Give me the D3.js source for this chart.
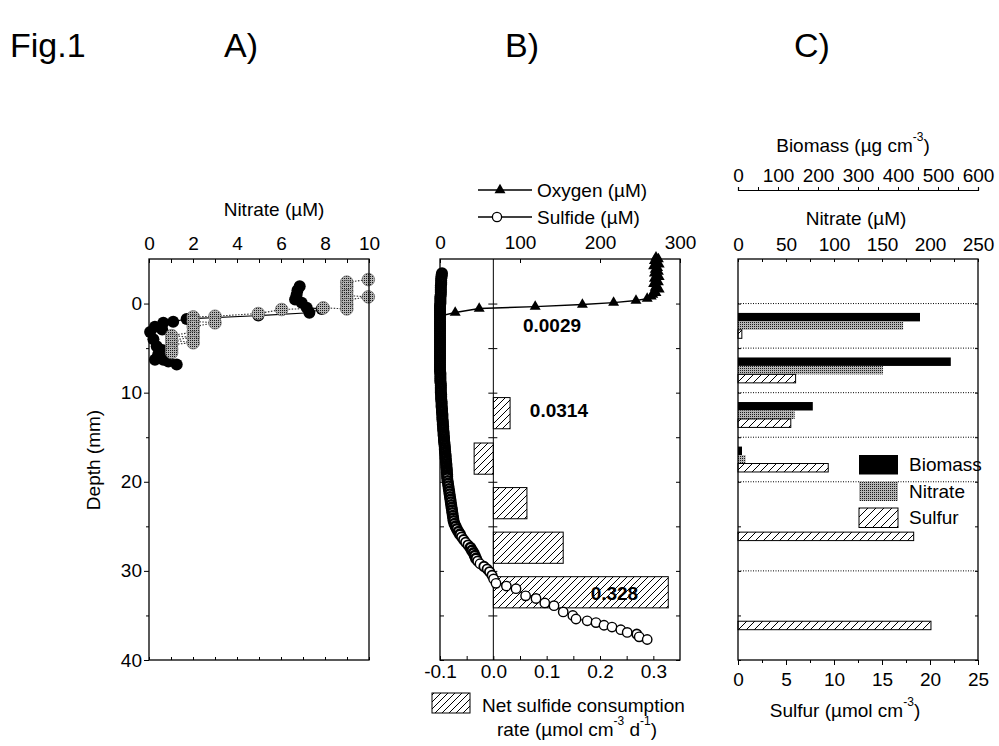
<!DOCTYPE html>
<html><head><meta charset="utf-8">
<script src="https://cdn.jsdelivr.net/npm/d3@7"></script>
<style>
body{margin:0;background:#fff;}
svg{display:block;font-family:"Liberation Sans",Arial,sans-serif;}
</style></head><body>
<svg id="fig" width="999" height="746"></svg>
<script>
// ---------------- DATA ----------------
const depthTicks = [0,5,10,15,20,25,30,35,40];
// Panel A: nitrate profiles (µM) vs depth (mm)
const nitrateTicksA = [0,1,2,3,4,5,6,7,8,9,10];
const blackNitrate = [6.85,6.75,6.71,6.64,6.94,7.17,7.85,7.29,4.97,1.71,1.10,0.65,0.27,0.60,0.05,0.20,0.35,0.60,0.42,0.27,0.65,0.88,1.26];
const blackDepth   = [-1.94,-1.5,-1.0,-0.45,-0.08,0.48,0.60,1.04,1.35,1.72,2.05,2.16,2.60,2.90,3.20,4.00,4.80,5.20,5.70,6.30,6.30,6.50,6.83];
const grayNitrate = [9.97,8.99,8.99,8.99,8.99,9.97,8.99,8.99,8.99,7.92,6.03,4.97,3.00,2.01,2.01,3.00,2.01,2.01,1.03,2.01,1.03,2.01,1.03,1.03,1.03];
const grayDepth   = [-2.69,-2.4,-1.9,-1.4,-0.9,-0.75,-0.4,0.1,0.6,0.48,0.67,1.12,1.42,1.5,2.0,2.16,2.6,3.2,3.6,3.8,4.1,4.4,4.6,5.1,5.5];

// Panel B: oxygen and sulfide (µM), net sulfide consumption rate
const concTicks = [0,100,200,300];
const rateTicks = [-0.1,-0.05,0,0.05,0.1,0.15,0.2,0.25,0.3];
const oxyDepth = [-5.2,-5.0,-4.8,-4.6,-4.4,-4.2,-4.0,-3.8,-3.6,-3.4,-3.2,-3.0,-2.8,-2.6,-2.4,-2.2,-2.0,-1.8,-1.6,-1.4,-1.2,-1.0,-0.8,-0.56,-0.34,-0.11,0.11,0.34,0.56,1.0,1.4,1.8];
const oxyConc  = [270,273,268,271,274,267,272,269,273,268,271,274,268,270,273,267,271,269,274,268,270,266,264,259,245,217,178,119,49,19,0,0];
const sulfideDepth = [
-3.4,-3.2,-3.0,-2.8,-2.6,-2.4,-2.2,-2.0,-1.8,-1.6,
-1.4,-1.2,-1.0,-0.8,-0.6,-0.4,-0.2,0.0,0.2,0.4,
0.6,0.8,1.0,1.2,1.4,1.6,1.8,2.0,2.2,2.4,
2.6,2.8,3.0,3.2,3.4,3.6,3.8,4.0,4.2,4.4,
4.6,4.8,5.0,5.2,5.4,5.6,5.8,6.0,6.2,6.4,
6.6,6.8,7.0,7.2,7.4,7.6,7.8,8.0,8.2,8.4,
8.6,8.8,9.0,9.2,9.4,9.6,9.8,10.0,10.2,10.4,
10.6,10.8,11.0,11.2,11.4,11.6,11.8,12.0,12.2,12.4,
12.6,12.8,13.0,13.2,13.4,13.6,13.8,14.0,14.2,14.4,
14.6,14.8,15.0,15.2,15.4,15.6,15.8,16.0,16.2,16.4,
16.6,16.8,17.0,17.2,17.4,17.6,17.8,18.0,18.2,18.4,
18.6,18.8,19.0,19.2,19.4,19.6,
19.9,20.2,20.5,20.8,21.1,21.4,21.7,22.0,22.3,22.6,
22.9,23.2,23.5,23.8,24.1,24.4,24.7,25.0,25.3,25.6,
25.9,26.2,26.5,26.8,27.1,27.4,27.7,28.0,28.3,28.6,
28.9,29.2,29.5,29.8,30.1,30.5,30.9,31.4,31.7,32.0,
32.8,33.1,33.6,33.9,34.6,35.0,35.4,35.6,35.8,36.1,
36.3,36.6,36.9,37.1,37.4,37.7];
const sulfideConc = [
2.5,2,2,1.5,1.5,1.5,1.5,1,1,1,
1,1,1,0.5,0.5,0.5,0.5,0.5,0,0,
0,0,0,0,0,0,0,0,0,0,
0,0,0,0,0,0,0,0,0,0,
0,0,0,0,0,0,0,0,0,0,
0,0,0,0,0,0,0.5,0.5,0.5,0.5,
0.5,0.5,1,1,1,1,1,1,1.5,1.5,
1.5,1.5,2,2,2,2,2.5,2.5,2.5,3,
3,3,3,3.5,3.5,3.5,4,4,4,4.5,
4.5,4.5,5,5,5,5.5,5.5,6,6,6,
6.5,6.5,7,7,7,7.5,7.5,8,8,8,
8.5,8.5,8.5,9,9,9,
9.5,10,10.5,11,11.5,12,12.5,13,13.5,14,
14.5,15,15.5,16,16.5,17,18,19.5,21,23,
25,27,29.5,32,35,38,40,42,43.5,45,
47,50,55,59,62,65,67,70,83,95,
107,120,131,142.5,154,166,170,184,195,205,
215,226,234,246,249,259];
const rateDepth = [12.3,17.4,22.4,27.4,32.4];
const rateValue = [0.0314,-0.036,0.063,0.131,0.328];
const rateLabels = ["0.0029","0.0314","0.328"];
const rateLabelDepth = [2.5,12.0,32.5];
const rateLabelAt = [0.110,0.123,0.227];

// Panel C: biomass, nitrate, sulfur per layer
const biomassTicks = [0,50,100,150,200,250,300,350,400,450,500,550,600];
const nitrateTicksC = [0,25,50,75,100,125,150,175,200,225,250];
const sulfurTicks = [0,2.5,5,7.5,10,12.5,15,17.5,20,22.5,25];
const layerDepth = [2.5,7.5,12.5,17.5,25.2,35.2];
const biomass = [455,532,187,10,null,null];
const nitrateC = [172,151,59,8,null,null];
const sulfur = [0.4,6.0,5.5,9.4,18.3,20.1];
const layerBounds = [0,5,10,15,20,30];
const seriesC = ["Biomass","Nitrate","Sulfur"];

// ---------------- DRAW ----------------
const FF = '"Liberation Sans",Arial,sans-serif';
const svg = d3.select('#fig');
const defs = svg.append('defs');
function hatchPattern(id, s){
  const p = defs.append('pattern').attr('id',id).attr('patternUnits','userSpaceOnUse').attr('width',s).attr('height',s);
  p.append('rect').attr('width',s).attr('height',s).attr('fill','#fff');
  p.append('path').attr('d',`M-1,1 L1,-1 M0,${s} L${s},0 M${s-1},${s+1} L${s+1},${s-1}`).attr('stroke','#000').attr('stroke-width',1);
}
hatchPattern('hatchB',7);
hatchPattern('hatchC',8);
const st = defs.append('pattern').attr('id','stip').attr('patternUnits','userSpaceOnUse').attr('width',2).attr('height',2);
st.append('rect').attr('width',2).attr('height',2).attr('fill','#b4b4b4');
st.append('rect').attr('width',1).attr('height',1).attr('fill','#1a1a1a');

const yD = d3.scaleLinear().domain([-5,40]).range([259,660]);
const TOP = yD.range()[0], BOT = yD.range()[1];

function styleAxis(g, keepDomain){
  g.attr('font-size',19).attr('font-family',FF);
  g.selectAll('line').attr('stroke','#000');
  g.selectAll('text').attr('fill','#000');
  if(!keepDomain) g.select('.domain').remove();
  else g.select('.domain').attr('stroke','#000').attr('stroke-width',1.2);
  return g;
}
function txt(x,y,s,opts={}){
  const t = svg.append('text').attr('x',x).attr('y',y).attr('font-family',FF)
    .attr('font-size',opts.size||19).attr('text-anchor',opts.anchor||'start')
    .attr('dominant-baseline',opts.base||'central').attr('fill','#000');
  if(opts.weight) t.attr('font-weight',opts.weight);
  if(opts.rotate) t.attr('transform',`rotate(${opts.rotate},${x},${y})`);
  if(Array.isArray(s)){
    let shift=0;
    s.forEach(p=>{
      if(typeof p==='string'){ t.append('tspan').attr('dy',-shift).text(p); shift=0; }
      else { t.append('tspan').attr('font-size',12).attr('dy',-8-shift).text(p.sup); shift=-8; }
    });
  } else t.text(s);
  return t;
}
const isMult = (d,m)=>Math.abs(d/m-Math.round(d/m))<1e-9;

// Titles
txt(10,57,'Fig.1',{size:34,base:'auto'});
txt(241,57,'A)',{size:34,anchor:'middle',base:'auto'});
txt(522,57,'B)',{size:34,anchor:'middle',base:'auto'});
txt(812,57,'C)',{size:34,anchor:'middle',base:'auto'});

// ---------- Panel A ----------
const xA = d3.scaleLinear().domain([0,10]).range([149,369]);
const lineA = d3.line().x(d=>xA(d[0])).y(d=>yD(d[1]));
const blackPts = d3.zip(blackNitrate, blackDepth);
const grayPts = d3.zip(grayNitrate, grayDepth);
svg.append('path').attr('d',lineA(blackPts)).attr('fill','none').attr('stroke','#000').attr('stroke-width',1.1);
svg.append('path').attr('d',lineA(grayPts)).attr('fill','none').attr('stroke','#333').attr('stroke-width',1.1).attr('stroke-dasharray','1.5,1.5');
svg.append('g').selectAll('circle').data(blackPts).join('circle')
  .attr('cx',d=>xA(d[0])).attr('cy',d=>yD(d[1])).attr('r',6).attr('fill','#000');
svg.append('g').selectAll('circle').data(grayPts).join('circle')
  .attr('cx',d=>xA(d[0])).attr('cy',d=>yD(d[1])).attr('r',6.3).attr('fill','url(#stip)').attr('stroke','#666').attr('stroke-width',0.7);

svg.append('rect').attr('x',149).attr('y',TOP).attr('width',220).attr('height',BOT-TOP)
  .attr('fill','none').attr('stroke','#000').attr('stroke-width',1.3);
let g = svg.append('g').attr('transform',`translate(0,${TOP})`)
  .call(d3.axisTop(xA).tickValues(nitrateTicksA).tickSize(-4).tickPadding(9).tickFormat(d=>d%2===0?d:''));
styleAxis(g);
g = svg.append('g').attr('transform',`translate(0,${BOT})`)
  .call(d3.axisBottom(xA).tickValues(nitrateTicksA).tickSize(-3).tickFormat(''));
styleAxis(g);
g = svg.append('g').attr('transform',`translate(149,0)`)
  .call(d3.axisLeft(yD).tickValues(depthTicks).tickSize(5).tickPadding(2).tickFormat(d=>d%10===0?d:''));
styleAxis(g);
g.selectAll('.tick').filter(d=>d%10!==0).select('line').attr('x2',-3);
txt(274,209,'Nitrate (µM)',{anchor:'middle'});
txt(93,460,'Depth (mm)',{anchor:'middle',rotate:-90});

// ---------- Panel B ----------
const xC = d3.scaleLinear().domain([0,300]).range([440,680]);
const xR = d3.scaleLinear().domain([-0.1,0.35]).range([440,680]);
const BAR = 3.5; // mm thickness of rate bars
svg.append('g').selectAll('rect').data(d3.zip(rateDepth,rateValue)).join('rect')
  .attr('x',d=>Math.min(xR(0),xR(d[1]))).attr('width',d=>Math.abs(xR(d[1])-xR(0)))
  .attr('y',d=>yD(d[0]-BAR/2)).attr('height',d=>yD(d[0]+BAR/2)-yD(d[0]-BAR/2))
  .attr('fill','url(#hatchB)').attr('stroke','#000').attr('stroke-width',1);
svg.append('line').attr('x1',xR(0)).attr('x2',xR(0)).attr('y1',TOP).attr('y2',BOT).attr('stroke','#000').attr('stroke-width',1);
g = svg.append('g').attr('transform',`translate(${xR(0)},0)`).call(d3.axisLeft(yD).tickValues(depthTicks.slice(0,8)).tickSize(5).tickFormat(''));
styleAxis(g);
g = svg.append('g').attr('transform',`translate(${xR(0)},0)`).call(d3.axisRight(yD).tickValues(depthTicks.slice(0,8)).tickSize(4).tickFormat(''));
styleAxis(g);
d3.zip(rateLabels,rateLabelDepth,rateLabelAt).forEach(d=>{
  txt(xR(d[2]),yD(d[1]),d[0],{anchor:'middle',weight:'bold'});
});
// oxygen
const oxyPts = d3.zip(oxyConc, oxyDepth);
svg.append('path').attr('d',d3.line().x(d=>xC(d[0])).y(d=>yD(d[1]))(oxyPts))
  .attr('fill','none').attr('stroke','#000').attr('stroke-width',1.4);
const tri = d3.symbol().type(d3.symbolTriangle).size(52);
svg.append('g').selectAll('path').data(oxyPts).join('path')
  .attr('d',tri).attr('transform',d=>`translate(${xC(d[0])},${yD(d[1])})`).attr('fill','#000');
// sulfide
const sulPts = d3.zip(sulfideConc, sulfideDepth);
svg.append('path').attr('d',d3.line().x(d=>xC(d[0])).y(d=>yD(d[1]))(sulPts))
  .attr('fill','none').attr('stroke','#000').attr('stroke-width',1);
// where the scanned circles overlap heavily, their outlines merge into a dark column
const gapPx = sulPts.map((d,i)=>{
  const n = sulPts[Math.min(i+1,sulPts.length-1)], p = sulPts[Math.max(i-1,0)];
  const dn = Math.hypot(xC(n[0])-xC(d[0]), yD(n[1])-yD(d[1]));
  const dp = Math.hypot(xC(p[0])-xC(d[0]), yD(p[1])-yD(d[1]));
  return Math.max(i===sulPts.length-1?dp:dn, 0.001);
});
svg.append('g').selectAll('circle').data(sulPts).join('circle')
  .attr('cx',d=>xC(d[0])).attr('cy',d=>yD(d[1])).attr('r',4.7)
  .attr('fill','#fff').attr('stroke','#000')
  .attr('stroke-width',(d,i)=>gapPx[i]<3.2?2.6:(gapPx[i]<4.5?1.8:1.4));

svg.append('rect').attr('x',440).attr('y',TOP).attr('width',240).attr('height',BOT-TOP)
  .attr('fill','none').attr('stroke','#000').attr('stroke-width',1.3);
g = svg.append('g').attr('transform',`translate(0,${TOP})`)
  .call(d3.axisTop(xC).tickValues(concTicks).tickSize(-4).tickPadding(10));
styleAxis(g);
g = svg.append('g').attr('transform',`translate(0,${BOT})`)
  .call(d3.axisBottom(xR).tickValues(rateTicks).tickSize(-4).tickPadding(5)
  .tickFormat(d=>isMult(d,0.1)?d.toFixed(1):''));
styleAxis(g);
g = svg.append('g').attr('transform',`translate(440,0)`).call(d3.axisLeft(yD).tickValues(depthTicks).tickSize(-4).tickFormat(''));
styleAxis(g);
g = svg.append('g').attr('transform',`translate(680,0)`).call(d3.axisRight(yD).tickValues(depthTicks).tickSize(-4).tickFormat(''));
styleAxis(g);
// legends B
svg.append('line').attr('x1',478).attr('x2',532).attr('y1',190).attr('y2',190).attr('stroke','#000').attr('stroke-width',1.4);
svg.append('path').attr('d',tri).attr('transform','translate(500,190)').attr('fill','#000');
txt(537,190,'Oxygen (µM)');
svg.append('line').attr('x1',478).attr('x2',532).attr('y1',217).attr('y2',217).attr('stroke','#000').attr('stroke-width',1.4);
svg.append('circle').attr('cx',497).attr('cy',217).attr('r',4.6).attr('fill','#fff').attr('stroke','#000').attr('stroke-width',1.3);
txt(537,217,'Sulfide (µM)');
svg.append('rect').attr('x',432).attr('y',693).attr('width',38).attr('height',20).attr('fill','url(#hatchB)').attr('stroke','#000').attr('stroke-width',1);
txt(482,705,'Net sulfide consumption');
txt(577,729,['rate (µmol cm',{sup:'-3'},' d',{sup:'-1'},')'],{anchor:'middle'});

// ---------- Panel C ----------
const xS = d3.scaleLinear().domain([0,25]).range([738,978]);
const xN = d3.scaleLinear().domain([0,250]).range([738,978]);
const xB = d3.scaleLinear().domain([0,600]).range([738,978]);
const sub = d3.scaleBand().domain(seriesC).range([-1.45,1.4]);
svg.append('g').selectAll('line').data(layerBounds).join('line')
  .attr('x1',738).attr('x2',978).attr('y1',d=>yD(d)).attr('y2',d=>yD(d))
  .attr('stroke','#000').attr('stroke-width',1).attr('stroke-dasharray','1,1.5');
const cols = {Biomass:{vals:biomass,x:xB},Nitrate:{vals:nitrateC,x:xN},Sulfur:{vals:sulfur,x:xS}};
seriesC.forEach(key=>{
  const c = cols[key];
  const data = d3.zip(layerDepth,c.vals).filter(d=>d[1]!=null);
  const sel = svg.append('g').selectAll('rect').data(data).join('rect')
    .attr('x',c.x(0)).attr('width',d=>c.x(d[1])-c.x(0))
    .attr('y',d=>yD(d[0]+sub(key))).attr('height',d=>yD(d[0]+sub(key)+sub.bandwidth())-yD(d[0]+sub(key)));
  if(key==='Biomass') sel.attr('fill','#000');
  if(key==='Nitrate') sel.attr('fill','url(#stip)');
  if(key==='Sulfur') sel.attr('fill','url(#hatchC)').attr('stroke','#000').attr('stroke-width',1);
});
svg.append('rect').attr('x',738).attr('y',TOP).attr('width',240).attr('height',BOT-TOP)
  .attr('fill','none').attr('stroke','#000').attr('stroke-width',1.3);
g = svg.append('g').attr('transform',`translate(0,${TOP})`)
  .call(d3.axisTop(xN).tickValues(nitrateTicksC).tickSize(-3).tickPadding(8).tickFormat(d=>d%50===0?d:''));
styleAxis(g);
g = svg.append('g').attr('transform',`translate(0,190)`)
  .call(d3.axisTop(xB).tickValues(biomassTicks).tickSize(3).tickSizeOuter(3).tickPadding(5).tickFormat(d=>d%100===0?d:''));
styleAxis(g,true);
g = svg.append('g').attr('transform',`translate(0,${BOT})`)
  .call(d3.axisBottom(xS).tickValues(sulfurTicks).tickSize(5).tickPadding(8).tickFormat(d=>isMult(d,5)?d:''));
styleAxis(g);
g.selectAll('.tick').filter(d=>!isMult(d,5)).select('line').attr('y2',3);
g = svg.append('g').attr('transform',`translate(738,0)`).call(d3.axisLeft(yD).tickValues(depthTicks).tickSize(-3).tickFormat(''));
styleAxis(g);
g = svg.append('g').attr('transform',`translate(978,0)`).call(d3.axisRight(yD).tickValues(depthTicks).tickSize(-3).tickFormat(''));
styleAxis(g);
txt(853,145,['Biomass (µg cm',{sup:'-3'},')'],{anchor:'middle'});
txt(856,218,'Nitrate (µM)',{anchor:'middle'});
txt(845,710,['Sulfur (µmol cm',{sup:'-3'},')'],{anchor:'middle'});
// legend C
const legFill = {Biomass:'#000',Nitrate:'url(#stip)',Sulfur:'url(#hatchC)'};
seriesC.forEach((k,i)=>{
  const y0 = 455 + i*26.5;
  const r = svg.append('rect').attr('x',859).attr('y',y0).attr('width',39).attr('height',19.5).attr('fill',legFill[k]);
  if(k==='Sulfur') r.attr('stroke','#000').attr('stroke-width',1);
  txt(909,y0+9.75,k);
});
</script>
</body></html>
